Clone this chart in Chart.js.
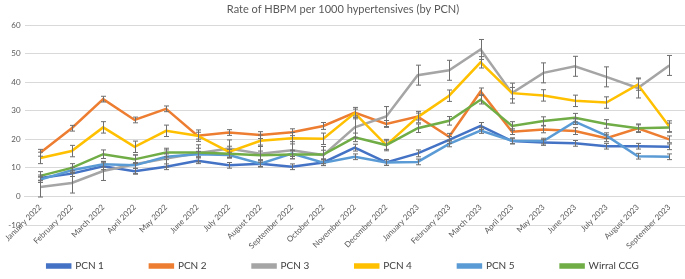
<!DOCTYPE html>
<html>
<head>
<meta charset="utf-8">
<script src="https://cdn.jsdelivr.net/npm/chart.js@4"></script>
<style>
  html, body { margin: 0; padding: 0; background: #fff; }
  #wrap { width: 685px; height: 279px; }
</style>
</head>
<body>
<div id="wrap"><canvas id="hbpmChart" width="685" height="279"></canvas></div>
<script>
const months = [
  'January 2022', 'February 2022', 'March 2022', 'April 2022', 'May 2022', 'June 2022',
  'July 2022', 'August 2022', 'September 2022', 'October 2022', 'November 2022', 'December 2022',
  'January 2023', 'February 2023', 'March 2023', 'April 2023', 'May 2023', 'June 2023',
  'July 2023', 'August 2023', 'September 2023'
];

const pcn1 = [6.5, 8.0, 10.6, 8.8, 10.4, 12.5, 10.9, 11.5, 10.4, 11.9, 17.1, 11.9, 15.1, 19.8, 24.7, 19.4, 18.9, 18.6, 17.6, 17.6, 17.4];
const pcn2 = [15.3, 23.9, 34.1, 26.8, 30.7, 21.3, 22.4, 21.5, 22.5, 24.7, 29.4, 25.4, 28.0, 20.9, 36.8, 22.7, 23.5, 22.9, 20.4, 23.9, 20.0];
const pcn3 = [3.3, 4.7, 8.9, 11.3, 13.3, 15.1, 16.8, 15.0, 16.2, 14.5, 24.2, 28.0, 42.5, 44.2, 51.5, 36.2, 43.3, 45.6, 41.9, 38.0, 45.9];
const pcn4 = [13.5, 15.9, 24.2, 17.4, 23.0, 21.3, 15.6, 19.5, 20.4, 20.2, 29.2, 18.0, 27.8, 35.3, 47.0, 36.2, 35.4, 33.5, 32.9, 39.2, 24.5];
const pcn5 = [5.9, 9.2, 11.3, 10.9, 13.9, 14.8, 14.5, 11.5, 15.0, 11.8, 13.9, 11.9, 12.1, 18.4, 23.1, 19.5, 19.4, 26.2, 21.3, 14.1, 13.9];
const wirral = [7.2, 10.0, 14.8, 13.0, 15.4, 15.4, 15.0, 14.4, 14.7, 14.7, 20.7, 18.0, 23.9, 26.5, 33.9, 24.7, 26.4, 27.6, 25.4, 23.9, 24.2];

// error bar half-widths
const pcn1Err = [1.0, 1.0, 1.2, 1.0, 1.0, 1.0, 1.0, 1.2, 1.0, 1.0, 1.2, 1.0, 1.2, 1.2, 1.2, 1.0, 1.0, 1.0, 1.0, 1.0, 1.0];
const pcn2Err = [1.2, 1.0, 1.0, 1.0, 1.0, 1.2, 1.0, 1.2, 1.2, 1.2, 1.2, 1.2, 1.2, 1.2, 1.2, 1.0, 1.2, 1.2, 1.2, 1.2, 1.2];
const pcn3Err = [3.5, 3.5, 3.3, 3.3, 3.0, 3.0, 3.0, 3.0, 3.0, 3.0, 3.5, 3.5, 3.5, 3.5, 3.5, 3.5, 3.5, 3.5, 3.5, 3.5, 3.5];
const pcn4Err = [2.0, 2.0, 2.0, 2.0, 2.0, 2.0, 2.0, 2.0, 2.0, 2.0, 2.0, 2.0, 2.0, 2.0, 2.0, 2.0, 2.0, 2.0, 2.0, 2.0, 2.0];
const pcn5Err = [1.0, 1.0, 1.0, 1.0, 1.0, 1.0, 1.0, 1.0, 1.0, 1.0, 1.0, 1.0, 1.0, 1.0, 1.0, 1.0, 1.0, 1.0, 1.0, 1.0, 1.0];
const wirralErr = [1.5, 1.5, 1.5, 1.5, 1.5, 1.5, 1.5, 1.5, 1.5, 1.5, 1.5, 1.5, 1.5, 1.5, 1.5, 1.5, 1.5, 1.5, 1.5, 1.5, 1.5];

const seriesNames = ['PCN 1', 'PCN 2', 'PCN 3', 'PCN 4', 'PCN 5', 'Wirral CCG'];
const seriesValues = [pcn1, pcn2, pcn3, pcn4, pcn5, wirral];
const seriesErrors = [pcn1Err, pcn2Err, pcn3Err, pcn4Err, pcn5Err, wirralErr];
const seriesColors = ['#4472C4', '#ED7D31', '#A5A5A5', '#FFC000', '#5B9BD5', '#70AD47'];

const errorBarsPlugin = {
  id: 'errorBars',
  afterDatasetsDraw(chart) {
    const { ctx } = chart;
    const yScale = chart.scales.y;
    ctx.save();
    ctx.strokeStyle = '#6f6f6f';
    ctx.lineWidth = 1;
    chart.data.datasets.forEach((ds, i) => {
      const meta = chart.getDatasetMeta(i);
      meta.data.forEach((pt, j) => {
        const err = ds.errors[j];
        const top = yScale.getPixelForValue(ds.data[j] + err);
        const bottom = yScale.getPixelForValue(ds.data[j] - err);
        const x = Math.round(pt.x) + 0.5;
        ctx.beginPath();
        ctx.moveTo(x, top);
        ctx.lineTo(x, bottom);
        ctx.moveTo(x - 2.5, top);
        ctx.lineTo(x + 2.5, top);
        ctx.moveTo(x - 2.5, bottom);
        ctx.lineTo(x + 2.5, bottom);
        ctx.stroke();
      });
    });
    ctx.restore();
  }
};

// month labels hang below the zero line (Excel style) and take no layout room,
// so the legend gets a fixed slot under the plot; its top is raised a little
const legendSlot = {
  id: 'legendSlot',
  beforeLayout(chart) {
    const legend = chart.legend;
    if (!legend._origFit) {
      legend._origFit = legend.fit;
      legend.fit = function () { this._origFit(); this.height = 54; };
    }
  },
  afterLayout(chart) {
    chart.legend.top -= 10;
  }
};

Chart.defaults.font.family = 'Lato, "Open Sans", sans-serif';
Chart.defaults.color = '#595959';

new Chart(document.getElementById('hbpmChart'), {
  type: 'line',
  data: {
    labels: months,
    datasets: seriesNames.map((name, i) => ({
      label: name,
      data: seriesValues[i],
      errors: seriesErrors[i],
      borderColor: seriesColors[i],
      backgroundColor: seriesColors[i],
      borderWidth: 2.5,
      pointRadius: 0,
      tension: 0,
      order: seriesNames.length - i
    }))
  },
  options: {
    responsive: false,
    animation: false,
    layout: { padding: { left: 1, right: 0, top: 3, bottom: 0 } },
    scales: {
      x: {
        position: { y: 0 },
        offset: true,
        grid: { display: false, drawTicks: false },
        border: { color: '#d9d9d9' },
        ticks: { minRotation: 45, maxRotation: 45, autoSkip: false, font: { size: 8 }, padding: 6 }
      },
      y: {
        min: -10,
        max: 60,
        grid: { color: '#d9d9d9', drawTicks: false },
        border: { display: false },
        ticks: { stepSize: 10, font: { size: 8 }, padding: 4 }
      }
    },
    plugins: {
      title: {
        display: true,
        text: 'Rate of HBPM per 1000 hypertensives (by PCN)',
        font: { size: 11, weight: 'normal' },
        color: '#595959',
        padding: { top: 0, bottom: 9 }
      },
      legend: {
        position: 'bottom',
        labels: {
          boxWidth: 23,
          boxHeight: 3,
          padding: 46,
          font: { size: 10 },
          color: '#404040',
          sort: (a, b) => a.datasetIndex - b.datasetIndex
        }
      },
      tooltip: { enabled: false }
    }
  },
  plugins: [errorBarsPlugin, legendSlot]
});
</script>
</body>
</html>
